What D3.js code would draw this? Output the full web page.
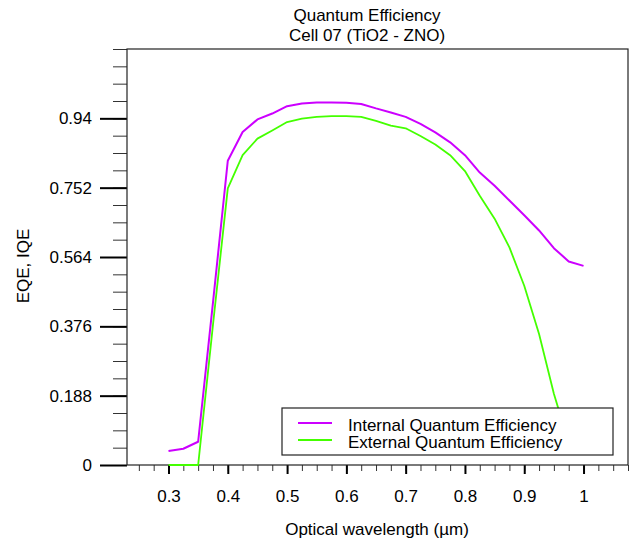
<html>
<head>
<meta charset="utf-8">
<script src="https://cdn.jsdelivr.net/npm/d3@7"></script>
<style>
  body { margin: 0; background: #fff; }
  text { font-family: Arial, "Liberation Sans", sans-serif; fill: #000; }
</style>
</head>
<body>
<script>
// wavelengths (um)
var wavelength = [0.3, 0.325, 0.35, 0.375, 0.4, 0.425, 0.45, 0.475, 0.5, 0.525, 0.55, 0.575, 0.6,
                  0.625, 0.65, 0.675, 0.7, 0.725, 0.75, 0.775, 0.8, 0.825, 0.85, 0.875, 0.9, 0.925,
                  0.95, 0.975, 1.0];
// internal quantum efficiency
var iqe = [0.038, 0.044, 0.063, 0.44, 0.825, 0.903, 0.937, 0.953, 0.973, 0.980, 0.983, 0.983, 0.982,
           0.979, 0.967, 0.956, 0.944, 0.925, 0.902, 0.875, 0.840, 0.793, 0.757, 0.717, 0.677, 0.636,
           0.588, 0.552, 0.540];
// external quantum efficiency (ends behind the legend)
var eqe = [0, 0, 0, 0.38, 0.75, 0.840, 0.885, 0.907, 0.930, 0.939, 0.944, 0.946, 0.946,
           0.944, 0.933, 0.920, 0.913, 0.892, 0.869, 0.840, 0.797, 0.730, 0.668, 0.590, 0.486, 0.355,
           0.193, 0.06];

var xTicks = [0.3, 0.4, 0.5, 0.6, 0.7, 0.8, 0.9, 1];
var xTickLabels = ["0.3", "0.4", "0.5", "0.6", "0.7", "0.8", "0.9", "1"];
var yTicks = [0, 0.188, 0.376, 0.564, 0.752, 0.94];
var yTickLabels = ["0", "0.188", "0.376", "0.564", "0.752", "0.94"];
var seriesNames = ["Internal Quantum Efficiency", "External Quantum Efficiency"];
var seriesColors = ["#cc00ff", "#44ff00"];

var width = 632, height = 542;
var plotL = 127, plotR = 628, plotT = 49, plotB = 465;

var svg = d3.select("body").append("svg")
    .attr("width", width)
    .attr("height", height);

var x = d3.scaleLinear().domain([0.23, 1.075]).range([plotL, plotR]);
var y = d3.scaleLinear().domain([0, 1.128]).range([plotB, plotT]);

// title
svg.append("text").attr("x", 367).attr("y", 21).attr("text-anchor", "middle")
    .style("font-size", "17px").text("Quantum Efficiency");
svg.append("text").attr("x", 367).attr("y", 41).attr("text-anchor", "middle")
    .style("font-size", "17px").text("Cell 07 (TiO2 - ZNO)");

// minor ticks
var xMinor = d3.range(0.25, 1.08, 0.025);
var yMinor = d3.range(0, 1.13, 0.047);

svg.append("g")
    .attr("transform", "translate(0," + plotB + ")")
    .call(d3.axisBottom(x).tickValues(xMinor).tickSize(6).tickFormat(""))
    .call(function(g) { g.select(".domain").remove(); g.selectAll("line").attr("stroke", "#333"); });

svg.append("g")
    .attr("transform", "translate(" + plotL + ",0)")
    .call(d3.axisLeft(y).tickValues(yMinor).tickSize(14).tickFormat(""))
    .call(function(g) { g.select(".domain").remove(); g.selectAll("line").attr("stroke", "#333"); });

// major ticks
var xAxis = d3.axisBottom(x).tickValues(xTicks).tickSize(9).tickPadding(16)
    .tickFormat(function(d, i) { return xTickLabels[i]; });
svg.append("g")
    .attr("transform", "translate(0," + plotB + ")")
    .call(xAxis)
    .call(function(g) {
        g.select(".domain").remove();
        g.selectAll("line").attr("stroke", "#000").attr("stroke-width", 2);
        g.selectAll("text").style("font-size", "17px").attr("font-family", null);
    });

var yAxis = d3.axisLeft(y).tickValues(yTicks).tickSize(27).tickPadding(8)
    .tickFormat(function(d, i) { return yTickLabels[i]; });
svg.append("g")
    .attr("transform", "translate(" + plotL + ",0)")
    .call(yAxis)
    .call(function(g) {
        g.select(".domain").remove();
        g.selectAll("line").attr("stroke", "#000").attr("stroke-width", 2);
        g.selectAll("text").style("font-size", "17px").attr("font-family", null);
    });

// frame
svg.append("rect")
    .attr("x", plotL).attr("y", plotT)
    .attr("width", plotR - plotL).attr("height", plotB - plotT)
    .attr("fill", "none").attr("stroke", "#222").attr("stroke-width", 1.2);

// curves
var line = d3.line()
    .x(function(d) { return x(d[0]); })
    .y(function(d) { return y(d[1]); });

var series = [iqe, eqe];
series.forEach(function(vals, k) {
    var pts = vals.map(function(v, i) { return [wavelength[i], v]; });
    svg.append("path")
        .datum(pts)
        .attr("d", line)
        .attr("fill", "none")
        .attr("stroke", seriesColors[k])
        .attr("stroke-width", k == 0 ? 2 : 1.8)
        .attr("stroke-linejoin", "round");
});

// legend
var legend = svg.append("g");
legend.append("rect")
    .attr("x", 282).attr("y", 408).attr("width", 331).attr("height", 47)
    .attr("fill", "#fff").attr("stroke", "#222").attr("stroke-width", 1.2);
seriesNames.forEach(function(name, k) {
    var ly = 423 + k * 17;
    legend.append("line")
        .attr("x1", 298).attr("x2", 332).attr("y1", ly).attr("y2", ly)
        .attr("stroke", seriesColors[k]).attr("stroke-width", 2);
    legend.append("text")
        .attr("x", 348).attr("y", ly + 8)
        .style("font-size", "17px").text(name);
});

// axis titles
svg.append("text")
    .attr("x", 377).attr("y", 535).attr("text-anchor", "middle")
    .style("font-size", "17px").text("Optical wavelength (µm)");
svg.append("text")
    .attr("transform", "translate(29,266) rotate(-90)")
    .attr("text-anchor", "middle")
    .style("font-size", "17px").text("EQE, IQE");
</script>
</body>
</html>
